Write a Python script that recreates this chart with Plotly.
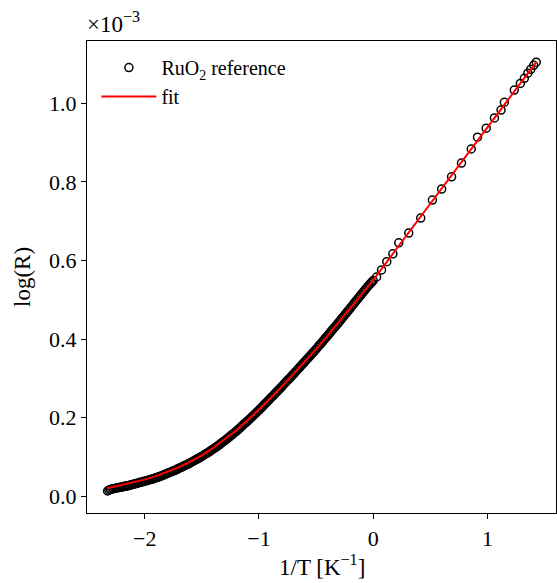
import plotly.graph_objects as go

# ---- data (y values in units of 1e-3) ----
x_dense = [
    -2.3250, -2.3125, -2.3000, -2.2875, -2.2750, -2.2625, -2.2500, -2.2375, -2.2250, -2.2125,
    -2.2000, -2.1875, -2.1750, -2.1625, -2.1500, -2.1375, -2.1250, -2.1125, -2.1000, -2.0875,
    -2.0750, -2.0625, -2.0500, -2.0375, -2.0250, -2.0125, -2.0000, -1.9875, -1.9750, -1.9625,
    -1.9500, -1.9375, -1.9250, -1.9125, -1.9000, -1.8875, -1.8750, -1.8625, -1.8500, -1.8375,
    -1.8250, -1.8125, -1.8000, -1.7875, -1.7750, -1.7625, -1.7500, -1.7375, -1.7250, -1.7125,
    -1.7000, -1.6875, -1.6750, -1.6625, -1.6500, -1.6375, -1.6250, -1.6125, -1.6000, -1.5875,
    -1.5750, -1.5625, -1.5500, -1.5375, -1.5250, -1.5125, -1.5000, -1.4875, -1.4750, -1.4625,
    -1.4500, -1.4375, -1.4250, -1.4125, -1.4000, -1.3875, -1.3750, -1.3625, -1.3500, -1.3375,
    -1.3250, -1.3125, -1.3000, -1.2875, -1.2750, -1.2625, -1.2500, -1.2375, -1.2250, -1.2125,
    -1.2000, -1.1875, -1.1750, -1.1625, -1.1500, -1.1375, -1.1250, -1.1125, -1.1000, -1.0875,
    -1.0750, -1.0625, -1.0500, -1.0375, -1.0250, -1.0125, -1.0000, -0.9875, -0.9750, -0.9625,
    -0.9500, -0.9375, -0.9250, -0.9125, -0.9000, -0.8875, -0.8750, -0.8625, -0.8500, -0.8375,
    -0.8250, -0.8125, -0.8000, -0.7875, -0.7750, -0.7625, -0.7500, -0.7375, -0.7250, -0.7125,
    -0.7000, -0.6875, -0.6750, -0.6625, -0.6500, -0.6375, -0.6250, -0.6125, -0.6000, -0.5875,
    -0.5750, -0.5625, -0.5500, -0.5375, -0.5250, -0.5125, -0.5000, -0.4875, -0.4750, -0.4625,
    -0.4500, -0.4375, -0.4250, -0.4125, -0.4000, -0.3875, -0.3750, -0.3625, -0.3500, -0.3375,
    -0.3250, -0.3125, -0.3000, -0.2875, -0.2750, -0.2625, -0.2500, -0.2375, -0.2250, -0.2125,
    -0.2000, -0.1875, -0.1750, -0.1625, -0.1500, -0.1375, -0.1250, -0.1125, -0.1000, -0.0875,
    -0.0750, -0.0625, -0.0500, -0.0375, -0.0250, -0.0125, 0.0000,
]
y_dense = [
    0.013, 0.015, 0.017, 0.018, 0.019, 0.0195, 0.020, 0.021, 0.022, 0.0225,
    0.023, 0.024, 0.025, 0.0255, 0.026, 0.027, 0.028, 0.029, 0.030, 0.031,
    0.032, 0.033, 0.034, 0.035, 0.036, 0.037, 0.038, 0.039, 0.040, 0.041,
    0.042, 0.043, 0.044, 0.0455, 0.047, 0.048, 0.049, 0.0505, 0.052, 0.0535,
    0.055, 0.0565, 0.058, 0.0595, 0.061, 0.0625, 0.064, 0.0655, 0.067, 0.069,
    0.071, 0.0725, 0.074, 0.076, 0.078, 0.0795, 0.081, 0.083, 0.085, 0.087,
    0.089, 0.091, 0.093, 0.095, 0.097, 0.099, 0.101, 0.1035, 0.106, 0.108,
    0.110, 0.1125, 0.115, 0.1175, 0.120, 0.1225, 0.125, 0.1275, 0.130, 0.133,
    0.136, 0.1385, 0.141, 0.144, 0.147, 0.150, 0.153, 0.156, 0.159, 0.162,
    0.165, 0.168, 0.171, 0.1745, 0.178, 0.1815, 0.185, 0.188, 0.191, 0.1945,
    0.198, 0.2015, 0.205, 0.2085, 0.212, 0.2155, 0.219, 0.2225, 0.226, 0.230,
    0.234, 0.2375, 0.241, 0.245, 0.249, 0.2525, 0.256, 0.260, 0.264, 0.2675,
    0.271, 0.275, 0.279, 0.283, 0.287, 0.291, 0.295, 0.2985, 0.302, 0.306,
    0.310, 0.314, 0.318, 0.322, 0.326, 0.330, 0.334, 0.338, 0.342, 0.346,
    0.350, 0.354, 0.358, 0.362, 0.366, 0.370, 0.374, 0.3785, 0.383, 0.387,
    0.391, 0.3955, 0.400, 0.404, 0.408, 0.4125, 0.417, 0.4215, 0.426, 0.430,
    0.434, 0.4385, 0.443, 0.4475, 0.452, 0.4565, 0.461, 0.4655, 0.470, 0.4745,
    0.479, 0.4835, 0.488, 0.4925, 0.497, 0.5015, 0.506, 0.5105, 0.515, 0.5195,
    0.524, 0.5285, 0.533, 0.537, 0.541, 0.545, 0.549,
]

x_sparse = [0.030, 0.073, 0.119, 0.172, 0.224, 0.311, 0.416, 0.518, 0.599, 0.686,
            0.773, 0.858, 0.913, 0.989, 1.061, 1.119, 1.148, 1.235, 1.288, 1.323,
            1.353, 1.379, 1.405, 1.427]
y_sparse = [0.558, 0.576, 0.597, 0.617, 0.645, 0.670, 0.708, 0.754, 0.782, 0.813,
            0.848, 0.884, 0.914, 0.937, 0.963, 0.983, 1.003, 1.034, 1.051, 1.064,
            1.077, 1.087, 1.097, 1.105]

x_fit = [-2.33, -2.3, -2.2, -2.1, -2.0, -1.9, -1.8, -1.7, -1.6, -1.5, -1.4, -1.3, -1.2,
         -1.1, -1.0, -0.9, -0.8, -0.7, -0.6, -0.5, -0.4, -0.3, -0.2, -0.1, 0.0,
         0.2, 0.4, 0.6, 0.8, 1.0, 1.2, 1.427]
y_fit = [0.020, 0.022, 0.027, 0.034, 0.042, 0.051, 0.062, 0.074, 0.088, 0.104, 0.123, 0.144, 0.167,
         0.193, 0.220, 0.249, 0.279, 0.310, 0.342, 0.374, 0.408, 0.443, 0.479, 0.515, 0.550,
         0.628, 0.706, 0.784, 0.862, 0.940, 1.018, 1.105]

x_ticks = [-2, -1, 0, 1]
x_ticklabels = ["\u22122", "\u22121", "0", "1"]
y_ticks = [0.0, 0.2, 0.4, 0.6, 0.8, 1.0]
y_ticklabels = ["0.0", "0.2", "0.4", "0.6", "0.8", "1.0"]

SCALE = 1e-3  # values above are in units of 1e-3
x_data = x_dense + x_sparse
y_data = [v * SCALE for v in (y_dense + y_sparse)]
y_fit_abs = [v * SCALE for v in y_fit]

FONT = "Liberation Serif"
BLACK = "black"

fig = go.Figure()
fig.add_trace(go.Scatter(
    x=x_data, y=y_data, mode="markers", name="RuO<sub>2</sub> reference",
    marker=dict(symbol="circle-open", size=8, color=BLACK, line=dict(width=1.5, color=BLACK)),
))
fig.add_trace(go.Scatter(
    x=x_fit, y=y_fit_abs, mode="lines", name="fit", line=dict(color="#ff0000", width=2),
))

axis_common = dict(showline=True, linecolor=BLACK, linewidth=1.2, mirror=True,
                   ticks="outside", ticklen=5, tickwidth=1.1, tickcolor=BLACK,
                   showgrid=False, zeroline=False, automargin=False,
                   tickfont=dict(family=FONT, size=22, color=BLACK))

fig.update_xaxes(range=[-2.505, 1.6], tickvals=x_ticks, ticktext=x_ticklabels, **axis_common)
fig.update_yaxes(range=[-0.043 * SCALE, 1.159 * SCALE], tickvals=[v * SCALE for v in y_ticks],
                 ticktext=y_ticklabels, **axis_common)

# axis titles and offset text
fig.add_annotation(text="1/T [K<sup>\u22121</sup>]", xref="paper", yref="paper", x=0.5, y=0,
                   xanchor="center", yanchor="middle", yshift=-52, showarrow=False,
                   font=dict(family=FONT, size=23, color=BLACK))
fig.add_annotation(text="log(R)", xref="paper", yref="paper", x=0, y=0.5,
                   xanchor="center", yanchor="middle", xshift=-65, textangle=-90, showarrow=False,
                   font=dict(family=FONT, size=23, color=BLACK))
fig.add_annotation(text="\u00d710<sup>\u22123</sup>", xref="paper", yref="paper", x=0, y=1,
                   xanchor="left", yanchor="bottom", showarrow=False, xshift=-2, yshift=2,
                   font=dict(family=FONT, size=23, color=BLACK))

fig.update_layout(
    width=557, height=583,
    margin=dict(l=87, r=1, t=41, b=70),
    plot_bgcolor="white", paper_bgcolor="white",
    showlegend=True,
    legend=dict(x=0.02, y=0.985, xanchor="left", yanchor="top", bgcolor="rgba(0,0,0,0)",
                font=dict(family=FONT, size=20, color=BLACK), tracegroupgap=0, itemwidth=55),
    font=dict(family=FONT, color=BLACK),
)

fig.write_html("out.html", config={"displayModeBar": False},
               post_script="document.body.style.margin='0px';document.body.style.overflow='hidden';")
